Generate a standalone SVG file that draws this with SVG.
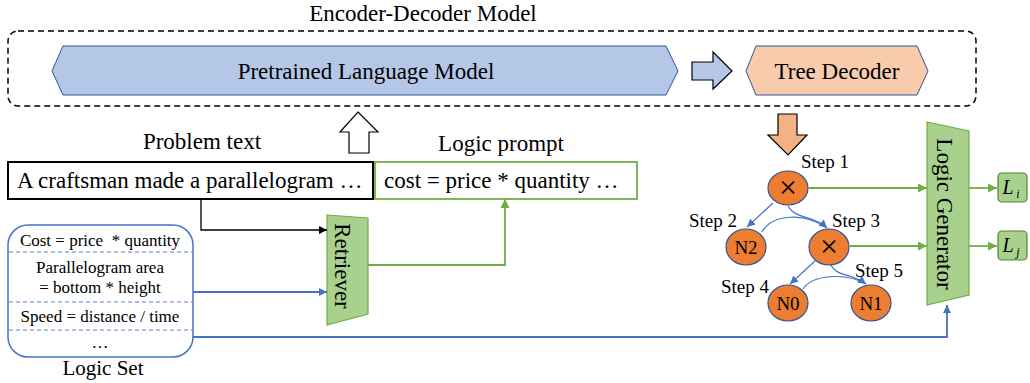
<svg xmlns="http://www.w3.org/2000/svg" width="1030" height="383" viewBox="0 0 1030 383">
<style>
text{font-family:"Liberation Serif","Times New Roman",serif;fill:#000}
.big{font-size:23px}
.mid{font-size:19px}
.sm{font-size:17px}
.x{font-size:32px}
.hex{stroke:#2F5597;stroke-width:1}
.node{fill:#ED7D31;stroke:#2F5597;stroke-width:1.2}
.trap{fill:#A9D18E;stroke:#70AD47;stroke-width:1.2}
.blk{fill:none;stroke:#000;stroke-width:1.3}
.bl{fill:none;stroke:#4472C4;stroke-width:1.8}
.blt{fill:none;stroke:#4472C4;stroke-width:1.2}
.gr{fill:none;stroke:#70AD47;stroke-width:1.8}
.sep{stroke:#8FAADC;stroke-width:1.3;stroke-dasharray:4 3}
</style>
<defs>
<marker id="ak" viewBox="0 0 10 10" refX="10" refY="5" markerWidth="9" markerHeight="8" orient="auto" markerUnits="userSpaceOnUse"><path d="M0,0 L10,5 L0,10 z" fill="#000"/></marker>
<marker id="ab" viewBox="0 0 10 10" refX="10" refY="5" markerWidth="9" markerHeight="8" orient="auto" markerUnits="userSpaceOnUse"><path d="M0,0 L10,5 L0,10 z" fill="#4472C4"/></marker>
<marker id="ag" viewBox="0 0 10 10" refX="10" refY="5" markerWidth="10" markerHeight="9" orient="auto" markerUnits="userSpaceOnUse"><path d="M0,0 L10,5 L0,10 z" fill="#70AD47"/></marker>
</defs>

<g id="encoder-decoder">
<rect x="8" y="31" width="968" height="75" rx="10" fill="none" stroke="#000" stroke-width="1.5" stroke-dasharray="6 4"/>
<text class="big" x="423" y="21" text-anchor="middle">Encoder-Decoder Model</text>
</g>

<g id="plm">
<polygon class="hex" points="52,71 63,46 666,46 678,71 666,95 63,95" fill="#B4C7E7"/>
<text class="big" x="366" y="79" text-anchor="middle">Pretrained Language Model</text>
</g>

<g id="tree-decoder">
<polygon class="hex" points="746,71 756,46 917,46 928,71 917,95 756,95" fill="#F8CBAD"/>
<text class="big" x="837" y="79" text-anchor="middle">Tree Decoder</text>
</g>

<g id="block-arrows">
<polygon points="692,62 713,62 713,52 732,71 713,89 713,80 692,80" fill="#B4C7E7" stroke="#000" stroke-width="1.2"/>
<polygon points="358,112 378,132 369,132 369,153 349,153 349,132 340,132" fill="#fff" stroke="#000" stroke-width="1.2"/>
<polygon points="778,114 797,114 797,135 807,135 788,155 768,135 778,135" fill="#F4B183" stroke="#000" stroke-width="1.2"/>
</g>

<g id="problem-text">
<text class="big" x="202" y="149" text-anchor="middle">Problem text</text>
<rect x="8" y="162" width="365" height="37" fill="#fff" stroke="#000" stroke-width="2"/>
<text class="big" x="17" y="188">A craftsman made a parallelogram …</text>
</g>

<g id="logic-prompt">
<text class="big" x="501" y="151" text-anchor="middle">Logic prompt</text>
<rect x="375" y="162" width="262" height="37" fill="#fff" stroke="#70AD47" stroke-width="1.8"/>
<text class="big" x="384" y="188">cost = price * quantity …</text>
</g>

<g id="logic-set">
<rect x="8" y="225" width="185" height="132" rx="20" fill="#fff" stroke="#4472C4" stroke-width="1.5"/>
<line class="sep" x1="9" y1="252" x2="192" y2="252"/>
<line class="sep" x1="9" y1="302" x2="192" y2="302"/>
<line class="sep" x1="9" y1="330" x2="192" y2="330"/>
<text class="sm" x="100" y="246" text-anchor="middle" xml:space="preserve">Cost = price  * quantity</text>
<text class="sm" x="100" y="273" text-anchor="middle">Parallelogram area</text>
<text class="sm" x="100" y="293" text-anchor="middle">= bottom * height</text>
<text class="sm" x="100" y="322" text-anchor="middle">Speed = distance / time</text>
<text class="sm" x="100" y="348" text-anchor="middle">…</text>
<text x="103" y="375" text-anchor="middle" style="font-size:21px">Logic Set</text>
</g>

<g id="retriever">
<polygon class="trap" points="327,215 368,218 368,314 327,325"/>
<text class="big" transform="translate(342,266) rotate(90)" x="0" y="7" text-anchor="middle">Retriever</text>
</g>

<g id="logic-generator">
<polygon class="trap" points="927,122 969,131 969,295 927,305"/>
<text class="big" transform="translate(944,214) rotate(90)" x="0" y="7" text-anchor="middle">Logic Generator</text>
</g>

<g id="Li">
<rect x="998" y="173" width="29" height="29" rx="4" fill="#A9D18E" stroke="#548235" stroke-width="1.2"/>
<text x="1008" y="194" style="font-size:20px;font-style:italic" text-anchor="middle">L</text>
<text x="1018" y="198" style="font-size:12px;font-style:italic" text-anchor="middle">i</text>
</g>
<g id="Lj">
<rect x="998" y="231" width="29" height="29" rx="4" fill="#A9D18E" stroke="#548235" stroke-width="1.2"/>
<text x="1008" y="252" style="font-size:20px;font-style:italic" text-anchor="middle">L</text>
<text x="1018" y="256" style="font-size:12px;font-style:italic" text-anchor="middle">j</text>
</g>

<g id="connectors">
<path class="blk" d="M201,199 V230 H327" marker-end="url(#ak)"/>
<path class="bl" d="M193,292 H327" marker-end="url(#ab)"/>
<path class="bl" d="M193,337 H947 V305" marker-end="url(#ab)"/>
<path class="gr" d="M368,265 H505 V199" marker-end="url(#ag)"/>
<path class="gr" d="M809,188 H927" marker-end="url(#ag)"/>
<path class="gr" d="M850,246 H927" marker-end="url(#ag)"/>
<path class="gr" d="M969,188 H997" marker-end="url(#ag)"/>
<path class="gr" d="M969,246 H997" marker-end="url(#ag)"/>
<path class="blt" d="M773,203 L747,227" marker-end="url(#ab)"/>
<path class="blt" d="M788,206 C796,220 812,214 827,228" marker-end="url(#ab)"/>
<path class="blt" d="M762,232 C772,214 805,212 827,228"/>
<path class="blt" d="M815,261 L790,284" marker-end="url(#ab)"/>
<path class="blt" d="M830,264 C838,278 850,272 866,284" marker-end="url(#ab)"/>
<path class="blt" d="M803,289 C812,275 845,272 866,284"/>
</g>

<g id="step1">
<ellipse class="node" cx="788" cy="188" rx="20" ry="17"/>
<text class="x" x="788" y="198" text-anchor="middle">×</text>
<text class="mid" x="801" y="168">Step 1</text>
</g>
<g id="step2">
<ellipse class="node" cx="746" cy="247" rx="20" ry="18"/>
<text x="746" y="254" text-anchor="middle" style="font-size:19px">N2</text>
<text class="mid" x="689" y="227">Step 2</text>
</g>
<g id="step3">
<ellipse class="node" cx="829" cy="247" rx="20" ry="18"/>
<text class="x" x="829" y="257" text-anchor="middle">×</text>
<text class="mid" x="832" y="227">Step 3</text>
</g>
<g id="step4">
<ellipse class="node" cx="788" cy="303" rx="20" ry="18"/>
<text x="788" y="310" text-anchor="middle" style="font-size:19px">N0</text>
<text class="mid" x="721" y="293">Step 4</text>
</g>
<g id="step5">
<ellipse class="node" cx="871" cy="303" rx="20" ry="18"/>
<text x="871" y="310" text-anchor="middle" style="font-size:19px">N1</text>
<text class="mid" x="855" y="277">Step 5</text>
</g>
</svg>
